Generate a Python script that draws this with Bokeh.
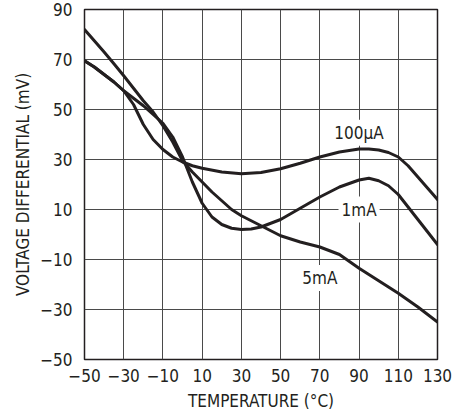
from bokeh.plotting import figure
from bokeh.models import Range1d, FixedTicker, Label
from bokeh.embed import file_html
from bokeh.resources import INLINE

# ---- data ----
temp_100uA = [-50, -45, -40, -35, -30, -25, -20, -15, -10, -5, 0, 5, 10, 20, 30, 40, 50, 60, 70, 80, 90, 95, 100, 105, 110, 115, 120, 125, 130]
v_100uA = [69.5, 67, 64, 61, 57.5, 52, 44, 38, 34, 31, 29, 27.5, 26.5, 25, 24.3, 24.8, 26.3, 28.5, 31, 33, 34.2, 34.2, 33.8, 32.8, 31, 27.5, 23, 18.5, 14]

temp_1mA = [-50, -45, -40, -35, -30, -25, -20, -15, -10, -5, 0, 5, 10, 15, 20, 25, 30, 35, 40, 50, 60, 70, 80, 90, 95, 100, 105, 110, 115, 120, 125, 130]
v_1mA = [69.5, 67, 64, 61, 57.5, 54.5, 51.5, 48, 44.5, 39, 31, 21, 12.5, 7, 4, 2.5, 2, 2.2, 3, 6, 10.5, 15, 19, 21.8, 22.5, 21.5, 19.5, 16, 11, 6, 1, -4]

temp_5mA = [-50, -45, -40, -35, -30, -25, -20, -15, -10, -5, 0, 5, 10, 15, 20, 25, 30, 40, 50, 60, 70, 80, 90, 100, 110, 120, 130]
v_5mA = [82, 77.5, 73, 68.3, 63.5, 58.5, 53.5, 49, 43.5, 37, 29.5, 25, 21, 17, 13.5, 10, 7.5, 3.5, -0.5, -3, -5, -8, -13.5, -18.5, -23.5, -29, -35]

x_ticks = [-50, -30, -10, 10, 30, 50, 70, 90, 110, 130]
x_tick_labels = ["\u221250", "\u221230", "\u221210", "10", "30", "50", "70", "90", "110", "130"]
y_ticks = [-50, -30, -10, 10, 30, 50, 70, 90]
y_tick_labels = ["\u221250", "\u221230", "\u221210", "10", "30", "50", "70", "90"]

series_labels = ["100\u00b5A", "1mA", "5mA"]

FONT = "'DejaVu Sans Condensed', 'DejaVu Sans', sans-serif"
INK = "#231f20"

p = figure(width=458, height=416, output_backend="svg", toolbar_location=None,
           x_range=Range1d(-50, 130), y_range=Range1d(-50, 90),
           min_border_left=84, min_border_right=21, min_border_top=9, min_border_bottom=57)

p.background_fill_color = "white"
p.border_fill_color = "white"
p.outline_line_color = INK
p.outline_line_width = 1.5

for ax, ticks, labels in ((p.xaxis[0], x_ticks, x_tick_labels), (p.yaxis[0], y_ticks, y_tick_labels)):
    ax.ticker = FixedTicker(ticks=ticks)
    ax.major_label_overrides = {t: l for t, l in zip(ticks, labels)}
    ax.major_tick_line_color = None
    ax.minor_tick_line_color = None
    ax.major_tick_out = 0
    ax.major_tick_in = 0
    ax.minor_tick_out = 0
    ax.minor_tick_in = 0
    ax.axis_line_color = None
    ax.major_label_text_font = FONT
    ax.major_label_text_font_size = "17px"
    ax.major_label_text_color = INK
    ax.axis_label_text_font = FONT
    ax.axis_label_text_font_size = "17px"
    ax.axis_label_text_font_style = "normal"
    ax.axis_label_text_color = INK

p.xaxis.axis_label = "TEMPERATURE (\u00b0C)"
p.yaxis.axis_label = "VOLTAGE DIFFERENTIAL (mV)"
p.xaxis.major_label_standoff = 9
p.xaxis.axis_label_standoff = 6
p.yaxis.major_label_standoff = 12
p.yaxis.axis_label_standoff = 4

p.xgrid.ticker = FixedTicker(ticks=x_ticks)
p.ygrid.ticker = FixedTicker(ticks=y_ticks)
for g in (p.xgrid[0], p.ygrid[0]):
    g.grid_line_color = "#4a4a4a"
    g.grid_line_width = 1
    g.grid_line_alpha = 1.0

for xs, ys in ((temp_100uA, v_100uA), (temp_1mA, v_1mA), (temp_5mA, v_5mA)):
    p.line(xs, ys, line_color=INK, line_width=3, line_join="round", line_cap="round")

label_pos = [(90, 40.7), (90, 10), (70, -17.4)]
for (lx, ly), txt in zip(label_pos, series_labels):
    p.add_layout(Label(x=lx, y=ly, text=txt, text_align="center", text_baseline="middle",
                       text_font=FONT, text_font_size="17px", text_color=INK,
                       background_fill_color="white", background_fill_alpha=1.0,
                       padding=3))

open("out.html", "w").write(file_html(p, INLINE))
